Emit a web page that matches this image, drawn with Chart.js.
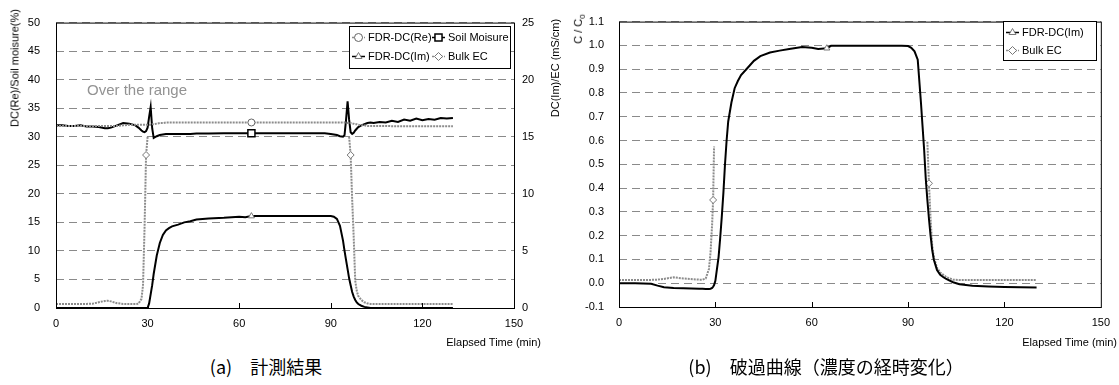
<!DOCTYPE html>
<html>
<head>
<meta charset="utf-8">
<script src="https://cdn.jsdelivr.net/npm/chart.js@4.4.1/dist/chart.umd.min.js"></script>
<style>
  body { margin: 0; background: #fff; }
  #wrap { position: relative; width: 1119px; height: 385px; background: #fff; font-family: 'Liberation Sans', Arial, sans-serif; }
  .box { position: absolute; }
  .lbl { position: absolute; white-space: nowrap; font-size: 11px; line-height: 1; color: #000; }
  .vt { position: absolute; white-space: nowrap; font-size: 11px; line-height: 1; transform: translate(-50%, -50%) rotate(-90deg); }
  .cap { position: absolute; white-space: nowrap; font-family: 'Noto Sans CJK JP', sans-serif; font-size: 18px; line-height: 1; transform: translate(-50%, -50%); }
</style>
</head>
<body>
<div id="wrap">
  <div class="box" style="left:0;top:0;width:570px;height:352px"><canvas id="chartA"></canvas></div>
  <div class="box" style="left:565px;top:0;width:554px;height:352px"><canvas id="chartB"></canvas></div>
  <div class="vt" style="left:15px;top:68px">DC(Re)/Soil moisure(%)</div>
  <div class="vt" style="left:555px;top:68px">DC(Im)/EC (mS/cm)</div>
  <div class="vt" style="left:580px;top:29px">C / C<sub style="font-size:8px">0</sub></div>
  <div class="lbl" style="right:578px;top:337px">Elapsed Time (min)</div>
  <div class="lbl" style="right:2px;top:337px">Elapsed Time (min)</div>
  <div class="lbl" style="left:87px;top:82px;font-size:15px;color:#939393">Over the range</div>
  <div class="cap" style="left:266px;top:366px">(a)　計測結果</div>
  <div class="cap" style="left:826px;top:366px">(b)　破過曲線（濃度の経時変化）</div>
</div>
<script>
// (a) measured values
const timeA = [0,2,4,6,8,10,12,14,16,17,18,20,22,24,26,27,28,28.5,29,29.5,30,30.5,31,31.5,32,33,34,35,36,37,38,40,42,44,46,48,50,55,60,62,64,66,70,75,80,85,88,90,91,92,93,94,94.5,95,95.5,96,96.5,97,97.5,98,98.5,99,100,101,102,103,104,106,108,110,112,114,116,118,120,122,124,126,128,130];
const dcReA = [31.9,31.9,31.9,31.9,31.9,31.9,31.9,31.9,31.9,31.9,31.9,31.9,32.0,32.1,32.1,32.1,32.1,32.1,32.1,32.1,32.1,32.1,32.1,32.2,32.2,32.3,32.4,32.4,32.5,32.5,32.5,32.5,32.5,32.5,32.5,32.5,32.5,32.5,32.5,32.5,32.5,32.5,32.5,32.5,32.5,32.5,32.5,32.5,32.5,32.5,32.5,32.5,32.5,32.5,32.4,32.4,32.4,32.3,32.3,32.2,32.2,32.1,32.0,32.0,31.9,31.9,31.9,31.9,31.9,31.85,31.85,31.85,31.85,31.85,31.85,31.85,31.85,31.85,31.85,31.85];
const soilMoisture = [32.0,32.0,31.9,31.9,32.0,31.8,31.8,31.7,31.5,31.5,31.6,32.0,32.4,32.3,32.0,31.6,31.1,30.9,30.8,31.0,31.6,33.5,35.2,31.5,29.8,30.1,30.3,30.4,30.5,30.5,30.5,30.5,30.5,30.5,30.55,30.55,30.55,30.6,30.6,30.6,30.6,30.6,30.6,30.6,30.6,30.6,30.6,30.5,30.4,30.3,30.1,30.0,30.3,33.0,36.2,33.0,30.8,30.5,30.7,31.1,31.4,31.7,32.0,32.2,32.4,32.5,32.4,32.6,32.5,32.8,32.6,33.0,32.8,33.2,32.9,33.1,33.0,33.3,33.2,33.3];
const dcImA = [0,0,0,0,0,0,0,0,0,0,0,0,0,0,0,0,0,0,0,0,0,0.4,1.2,2.0,3.0,4.6,5.7,6.4,6.8,7.0,7.15,7.3,7.5,7.6,7.75,7.8,7.85,7.9,8.0,7.95,8.05,8.05,8.05,8.05,8.05,8.05,8.05,8.05,8.0,7.8,7.2,5.9,5.0,4.2,3.4,2.6,2.0,1.4,1.0,0.7,0.5,0.35,0.2,0.1,0.05,0,0,0,0,0,0,0,0,0,0,0,0,0,0,0];
const bulkEcA = [0.36,0.36,0.35,0.35,0.35,0.36,0.38,0.5,0.62,0.63,0.58,0.42,0.36,0.35,0.35,0.38,0.8,2.0,7.0,13.4,15.0,null,null,null,null,null,null,null,null,null,null,null,null,null,null,null,null,null,null,null,null,null,null,null,null,null,null,null,null,null,null,null,null,null,null,15.0,13.4,9.5,6.2,2.4,1.5,1.05,0.7,0.5,0.4,0.36,0.35,0.35,0.35,0.35,0.35,0.35,0.35,0.35,0.35,0.34,0.34,0.34,0.34,0.34];
const marksA = { re: [64], soil: [64], im: [64], ec: [29.5, 96.5] };

// (b) breakthrough curve, C/C0
const timeB = [0,5,10,12,14,17,20,25,26,27,28,28.5,29,29.3,29.6,30,30.5,31,31.5,32,32.5,33,33.5,34,35,36,37,38,40,42,44,47,50,53,57,60,62,64.7,66,70,80,88,90,91,92,93,94,94.5,95,95.5,96,96.5,97,97.5,98,99,100,101,102,104,106,110,115,120,125,130];
const dcImB = [0,0,-0.002,-0.01,-0.017,-0.02,-0.021,-0.023,-0.023,-0.024,-0.024,-0.023,-0.02,-0.015,-0.008,0.01,0.06,0.11,0.19,0.28,0.38,0.5,0.6,0.68,0.76,0.82,0.85,0.875,0.905,0.935,0.955,0.97,0.978,0.985,0.993,0.99,0.985,0.988,0.998,0.998,0.998,0.998,0.997,0.99,0.975,0.94,0.76,0.66,0.56,0.44,0.35,0.27,0.2,0.14,0.1,0.055,0.035,0.025,0.017,0.004,-0.004,-0.011,-0.014,-0.016,-0.017,-0.018];
const bulkEcB = [0.013,0.013,0.014,0.015,0.018,0.025,0.02,0.015,0.015,0.02,0.06,0.13,0.25,0.35,0.575,null,null,null,null,null,null,null,null,null,null,null,null,null,null,null,null,null,null,null,null,null,null,null,null,null,null,null,null,null,null,null,null,null,null,null,0.595,0.42,0.27,0.16,0.11,0.065,0.045,0.035,0.025,0.015,0.013,0.013,0.013,0.013,0.013,0.013];
const marksB = { im: [64.7], ec: [29.3, 96.5] };

const xTicks = [0, 30, 60, 90, 120, 150];
const yTicksA = [0, 5, 10, 15, 20, 25, 30, 35, 40, 45, 50];
const y1TicksA = [0, 5, 10, 15, 20, 25];
const yTicksB = [-0.1, 0.0, 0.1, 0.2, 0.3, 0.4, 0.5, 0.6, 0.7, 0.8, 0.9, 1.0, 1.1];

Chart.defaults.font.family = "'Liberation Sans', Arial, sans-serif";
Chart.defaults.font.size = 11;
Chart.defaults.color = '#000';
Chart.defaults.animation = false;

const BLACK = '#000';
const GRAY = '#8c8c8c';

function series(label, times, vals, marks, style) {
  return {
    label: label,
    data: times.map((t, i) => ({ x: t, y: vals[i] })),
    borderColor: style.color,
    borderWidth: 2,
    borderDash: style.dash || [],
    pointStyle: style.point,
    pointBackgroundColor: '#fff',
    pointBorderColor: style.pointColor,
    pointBorderWidth: style.pointWidth || 1,
    pointRadius: ctx => marks.includes(times[ctx.dataIndex]) ? style.r : 0,
    pointHoverRadius: 0,
    tension: 0,
    spanGaps: false,
    yAxisID: style.axis || 'y'
  };
}

const framePlugin = {
  id: 'frame',
  afterDatasetsDraw(chart) {
    const { ctx, chartArea: a, scales: { x } } = chart;
    ctx.save();
    ctx.strokeStyle = '#000';
    ctx.lineWidth = 1;
    ctx.strokeRect(a.left + 0.5, a.top + 0.5, a.right - a.left, a.bottom - a.top);
    ctx.beginPath();
    x.ticks.forEach(t => {
      if (t.value > x.min && t.value < x.max) {
        const px = Math.round(x.getPixelForValue(t.value)) + 0.5;
        ctx.moveTo(px, a.bottom);
        ctx.lineTo(px, a.bottom - 5);
      }
    });
    ctx.stroke();
    ctx.restore();
  }
};

const boxLegend = {
  id: 'boxLegend',
  afterDraw(chart, args, opts) {
    const { ctx } = chart;
    const [bx, by, bw, bh] = opts.box;
    ctx.save();
    ctx.fillStyle = '#fff';
    ctx.fillRect(bx, by, bw, bh);
    ctx.strokeStyle = '#000';
    ctx.lineWidth = 1;
    ctx.strokeRect(bx + 0.5, by + 0.5, bw, bh);
    ctx.font = "11px 'Liberation Sans', Arial, sans-serif";
    ctx.textBaseline = 'middle';
    opts.items.forEach(it => {
      const ds = chart.data.datasets[it.i];
      ctx.strokeStyle = ds.borderColor;
      ctx.lineWidth = 1.5;
      ctx.setLineDash(ds.borderDash);
      ctx.beginPath();
      ctx.moveTo(it.x, it.y + 0.5);
      ctx.lineTo(it.x + 13, it.y + 0.5);
      ctx.stroke();
      ctx.setLineDash([]);
      ctx.fillStyle = '#fff';
      ctx.strokeStyle = ds.pointBorderColor;
      ctx.lineWidth = ds.pointBorderWidth;
      Chart.helpers.drawPoint(ctx, { pointStyle: ds.pointStyle, radius: it.r, rotation: 0, borderWidth: ds.pointBorderWidth }, it.x + 6.5, it.y + 0.5);
      ctx.fillStyle = '#000';
      ctx.fillText(ds.label, it.x + 16, it.y + 1);
    });
    ctx.restore();
  }
};

function fixedTicks(list) {
  return scale => { scale.ticks = list.map(v => ({ value: v })); };
}

new Chart(document.getElementById('chartA').getContext('2d'), {
  type: 'line',
  data: {
    datasets: [
      series('FDR-DC(Re)', timeA, dcReA, marksA.re, { color: GRAY, dash: [2, 1], point: 'circle', pointColor: '#666', r: 3.5 }),
      series('Soil Moisure', timeA, soilMoisture, marksA.soil, { color: BLACK, point: 'rect', pointColor: '#000', pointWidth: 1.5, r: 5 }),
      series('FDR-DC(Im)', timeA, dcImA, marksA.im, { color: BLACK, point: 'triangle', pointColor: '#777', r: 3.5, axis: 'y1' }),
      series('Bulk EC', timeA, bulkEcA, marksA.ec, { color: GRAY, dash: [2, 1], point: 'rectRot', pointColor: '#777', r: 3.5, axis: 'y1' })
    ]
  },
  options: {
    responsive: true,
    maintainAspectRatio: false,
    layout: { padding: { top: 19, left: 0, right: 0, bottom: 0 } },
    plugins: {
      legend: { display: false },
      tooltip: { enabled: false },
      boxLegend: {
        box: [349, 26, 161, 42],
        items: [
          { i: 0, x: 352, y: 37, r: 4 },
          { i: 1, x: 432, y: 37, r: 5 },
          { i: 2, x: 352, y: 56, r: 4 },
          { i: 3, x: 432, y: 56, r: 4 }
        ]
      }
    },
    scales: {
      x: {
        type: 'linear', min: 0, max: 150,
        afterBuildTicks: fixedTicks(xTicks),
        grid: { display: false, drawTicks: false },
        border: { display: false },
        ticks: { padding: 9, maxRotation: 0, autoSkip: false },
        afterFit: s => { s.height = 44; }
      },
      y: {
        min: 0, max: 50,
        afterBuildTicks: fixedTicks(yTicksA),
        grid: { color: '#8a8a8a', drawTicks: false },
        border: { display: false, dash: [8, 5] },
        ticks: { padding: 16 },
        afterFit: s => { s.width = 56; }
      },
      y1: {
        position: 'right', min: 0, max: 25,
        afterBuildTicks: fixedTicks(y1TicksA),
        grid: { display: false, drawTicks: false },
        border: { display: false },
        ticks: { padding: 8 },
        afterFit: s => { s.width = 56; }
      }
    }
  },
  plugins: [framePlugin, boxLegend]
});

new Chart(document.getElementById('chartB').getContext('2d'), {
  type: 'line',
  data: {
    datasets: [
      series('FDR-DC(Im)', timeB, dcImB, marksB.im, { color: BLACK, point: 'triangle', pointColor: '#777', r: 3.5 }),
      series('Bulk EC', timeB, bulkEcB, marksB.ec, { color: GRAY, dash: [2, 1], point: 'rectRot', pointColor: '#777', r: 3.5 })
    ]
  },
  options: {
    responsive: true,
    maintainAspectRatio: false,
    layout: { padding: { top: 19, left: 0, right: 10, bottom: 0 } },
    plugins: {
      legend: { display: false },
      tooltip: { enabled: false },
      boxLegend: {
        box: [438, 21, 93, 39],
        items: [
          { i: 0, x: 441, y: 32, r: 4 },
          { i: 1, x: 441, y: 50, r: 4 }
        ]
      }
    },
    scales: {
      x: {
        type: 'linear', min: 0, max: 150,
        afterBuildTicks: fixedTicks(xTicks),
        grid: { display: false, drawTicks: false },
        border: { display: false },
        ticks: { padding: 9, maxRotation: 0, autoSkip: false },
        afterFit: s => { s.height = 45; }
      },
      y: {
        min: -0.1, max: 1.1,
        afterBuildTicks: fixedTicks(yTicksB),
        grid: { color: '#8a8a8a', drawTicks: false },
        border: { display: false, dash: [8, 5] },
        ticks: { padding: 15, callback: v => v.toFixed(1) },
        afterFit: s => { s.width = 54; }
      }
    }
  },
  plugins: [framePlugin, boxLegend]
});
</script>
</body>
</html>
